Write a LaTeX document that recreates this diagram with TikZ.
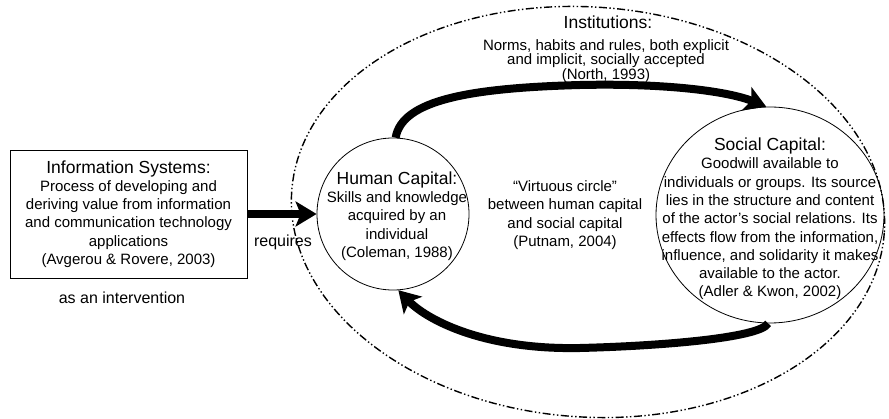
\documentclass[tikz,border=0pt]{standalone}
\usepackage{fontspec}
\setmainfont{Liberation Sans}
\usetikzlibrary{arrows.meta,shapes.geometric}
\begin{document}
\begin{tikzpicture}[x=1pt,y=-1pt,
  body/.style={font=\fontsize{15}{18.3}\selectfont, align=center, inner sep=0pt},
  headfont/.style={font=\fontsize{17.5}{18.3}\selectfont, inner sep=0pt},
  bigarrow/.style={line width=8pt, -{Stealth[length=21pt,width=25pt,inset=5pt]}},
  instline/.style={line width=1.4pt, dash pattern=on 8pt off 2.5pt on 1.4pt off 2.5pt on 1.4pt off 2.5pt},
  thinline/.style={line width=0.8pt}]
\useasboundingbox (0,0) rectangle (889,419);

% Institutions (outer dash-dot-dot ellipse)
\coordinate (instc) at (588,212);
\draw[instline, rotate around={-4:(instc)}] (instc) ellipse [x radius=297, y radius=205];
\node[headfont] (insthead) at (608,22) {Institutions:};
\node[body, font=\fontsize{15}{14.5}\selectfont] (insttext) at (606,61)
  {Norms, habits and rules, both explicit\\and implicit, socially accepted\\(North, 1993)};

% Information Systems box
\node[draw, thinline, minimum width=237pt, minimum height=128pt, inner sep=0pt] (isbox) at (128.5,214) {};
\node[body] (istext) at (128.5,214)
  {{\fontsize{17.5}{18.3}\selectfont Information Systems:}\\Process of developing and\\deriving value from information\\and communication technology\\applications\\(Avgerou \& Rovere, 2003)};
\node[font=\fontsize{16}{18}\selectfont, inner sep=0pt] (interv) at (122,298) {as an intervention};

% Human capital circle
\node[draw, thinline, circle, minimum size=152pt, inner sep=0pt] (hc) at (393,214) {};
\node[body] (hctext) at (397,216)
  {{\fontsize{17.5}{18.3}\selectfont Human Capital:}\\Skills and knowledge\\acquired by an\\individual\\(Coleman, 1988)};

% Social capital ellipse
\node[draw, thinline, ellipse, minimum width=228pt, minimum height=216pt, inner sep=0pt] (sc) at (770,215) {};
\node[body] (sctext) at (770,219)
  {{\fontsize{17.5}{18.5}\selectfont Social Capital:}\\Goodwill available to\\individuals or groups. Its source\\lies in the structure and content\\of the actor’s social relations. Its\\effects flow from the information,\\influence, and solidarity it makes\\available to the actor.\\(Adler \& Kwon, 2002)};

% Virtuous circle text
\node[body] (vc) at (565,215)
  {“Virtuous circle”\\between human capital\\and social capital\\(Putnam, 2004)};

% Arrows
\draw[bigarrow] (isbox.east) -- (hc.west);
\node[font=\fontsize{16}{18}\selectfont, inner sep=0pt] (req) at (283,242) {requires};

\draw[bigarrow] (hc.88) .. controls (402,100) and (470,88) .. (580,85)
  .. controls (670,83) and (730,92) .. (sc.92);
\draw[bigarrow] (sc.-91) .. controls (760,338) and (660,346) .. (580,348)
  .. controls (480,350) and (425,318) .. (hc.-86);
\end{tikzpicture}
\end{document}
